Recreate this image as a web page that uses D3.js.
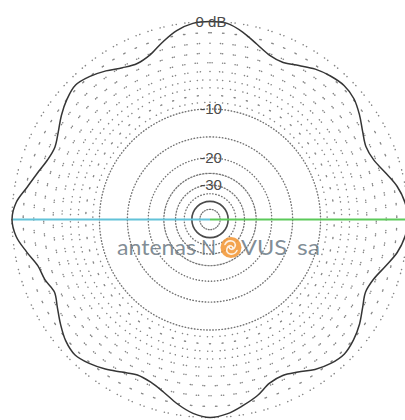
<!DOCTYPE html>
<html>
<head>
<meta charset="utf-8">
<script src="https://cdn.jsdelivr.net/npm/d3@7"></script>
<style>
  html, body { margin: 0; padding: 0; background: #fff; }
  svg { display: block; }
</style>
</head>
<body>
<svg id="chart" width="405" height="420"></svg>
<script>
// Horizontal radiation pattern, relative gain in dB every 5 degrees (clockwise from north)
const azimuthDeg = d3.range(0, 360, 5);
const gainDb = [
   0.0, -0.1, -0.7, -1.5, -2.15, -2.3, -1.85, -1.3, -0.95,
  -0.75, -0.9, -1.4, -2.0, -2.4, -2.2, -1.5, -0.7, -0.2,
   0.0, -0.2, -0.7, -1.5, -2.2, -2.45, -2.0, -1.4, -0.95,
  -0.7, -0.9, -1.35, -2.0, -2.4, -2.2, -1.4, -0.8, -0.25,
   0.0, -0.3, -0.95, -1.75, -2.3, -2.45, -2.0, -1.4, -0.9,
  -0.6, -0.85, -1.4, -2.0, -2.45, -2.05, -1.8, -1.05, -0.3,
   0.0, -0.3, -1.1, -1.75, -2.3, -2.5, -2.1, -1.5, -1.0,
  -0.7, -1.0, -1.5, -2.1, -2.4, -2.1, -1.3, -0.55, -0.1
];

// Grid rings (dB) and ring labels
const fineRingsDb = d3.range(0, -10, -1);            // 0 .. -9 dB, every 1 dB
const coarseRingsDb = [-10, -15, -20, -25, -30, -35];
const floorRingDb = -41;
const innerRingDb = -51;
const ringLabels = [
  { db: 0, text: "0 dB" },
  { db: -10, text: "-10" },
  { db: -20, text: "-20" },
  { db: -30, text: "-30" }
];

const svg = d3.select("#chart");
const cx = 210, cy = 219.5, R = 198;

// ARRL-style logarithmic radial scale: radius shrinks by 0.89 every 2 dB
const logRadius = d3.scaleLinear()
  .domain([0, -2])
  .range([Math.log(R), Math.log(R * 0.89)]);
const rScale = db => Math.exp(logRadius(db));
const aScale = d3.scaleLinear().domain([0, 360]).range([0, 2 * Math.PI]);

const g = svg.append("g").attr("transform", `translate(${cx},${cy})`);

const ring = r => d3.arc()({ innerRadius: r, outerRadius: r, startAngle: 0, endAngle: 2 * Math.PI });

// sparse dotted 1 dB rings
g.selectAll("path.fine").data(fineRingsDb).join("path")
  .attr("class", "fine")
  .attr("d", d => ring(rScale(d)))
  .attr("fill", "none")
  .attr("stroke", "#858585")
  .attr("stroke-width", 1.5)
  .attr("stroke-linecap", "round")
  .attr("stroke-dasharray", "0.1 12.5");

// denser dotted 5 dB rings
g.selectAll("path.coarse").data(coarseRingsDb).join("path")
  .attr("class", "coarse")
  .attr("d", d => ring(rScale(d)))
  .attr("fill", "none")
  .attr("stroke", "#747474")
  .attr("stroke-width", 1.4)
  .attr("stroke-linecap", "round")
  .attr("stroke-dasharray", "0.1 3");

// floor ring
g.append("path")
  .attr("d", ring(rScale(floorRingDb)))
  .attr("fill", "none")
  .attr("stroke", "#4a4a4a")
  .attr("stroke-width", 1.6);

g.append("path")
  .attr("d", ring(rScale(innerRingDb)))
  .attr("fill", "none")
  .attr("stroke", "#707070")
  .attr("stroke-width", 1.3)
  .attr("stroke-linecap", "round")
  .attr("stroke-dasharray", "0.1 2.4");

// reference axis: left half cyan, right half green
g.append("line")
  .attr("x1", -rScale(0) + 1).attr("x2", 0).attr("y1", 0).attr("y2", 0)
  .attr("stroke", "#62c2d8").attr("stroke-width", 2.2);
g.append("line")
  .attr("x1", 0).attr("x2", rScale(0) + 2).attr("y1", 0).attr("y2", 0)
  .attr("stroke", "#5cc95a").attr("stroke-width", 2.2);

// watermark
const wm = svg.append("g").attr("fill", "#6b7983").attr("fill-opacity", 0.85)
  .style("font-family", "Lato, 'Open Sans', sans-serif").style("font-size", "22px");
wm.append("text").attr("x", 117).attr("y", 255).attr("textLength", 79).attr("lengthAdjust", "spacingAndGlyphs").text("antenas");
wm.append("text").attr("x", 201).attr("y", 255).attr("textLength", 15).attr("lengthAdjust", "spacingAndGlyphs").text("N");
wm.append("text").attr("x", 241).attr("y", 255).attr("textLength", 46).attr("lengthAdjust", "spacingAndGlyphs").text("VUS");
wm.append("text").attr("x", 297).attr("y", 255).attr("textLength", 23).attr("lengthAdjust", "spacingAndGlyphs").text("sa");

// swirl logo standing in for the "O"
const logo = svg.append("g").attr("transform", "translate(231,247.5)");
logo.append("circle").attr("r", 10.5).attr("fill", "#f39a3c").attr("fill-opacity", 0.9);
logo.append("path")
  .attr("d", "M -6,-3 C -3,-9 6,-7 4,-1 C 2,4 -4,1 -1,-2 M 6,3 C 3,9 -6,7 -4,1 C -2,-4 4,-1 1,2")
  .attr("fill", "none").attr("stroke", "#fff").attr("stroke-opacity", 0.85).attr("stroke-width", 1.6).attr("stroke-linecap", "round");

// radiation pattern
const pattern = azimuthDeg.map((a, i) => [aScale(a), rScale(gainDb[i])]);
g.append("path")
  .datum(pattern)
  .attr("d", d3.lineRadial().angle(d => d[0]).radius(d => d[1]).curve(d3.curveCatmullRomClosed.alpha(0.5)))
  .attr("fill", "none")
  .attr("stroke", "#353535")
  .attr("stroke-width", 1.5);

// ring labels
g.selectAll("text.lbl").data(ringLabels).join("text")
  .attr("class", "lbl")
  .attr("x", 1)
  .attr("y", d => -rScale(d.db))
  .attr("dy", "0.36em")
  .attr("text-anchor", "middle")
  .style("font-family", "'Liberation Sans', Arial, sans-serif")
  .style("font-size", "15px")
  .attr("fill", "#4a4a4a")
  .text(d => d.text);
</script>
</body>
</html>
